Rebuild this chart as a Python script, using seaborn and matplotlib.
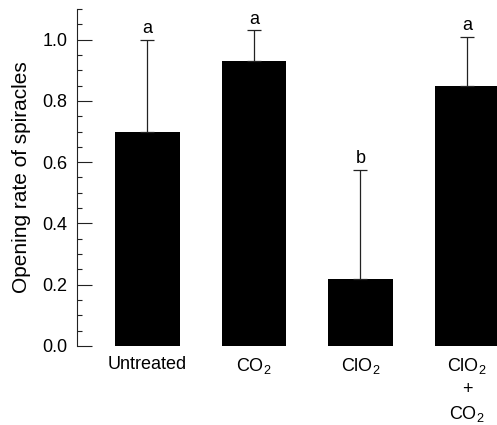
import matplotlib
matplotlib.use("Agg")
import matplotlib.pyplot as plt
import seaborn as sns
import numpy as np
import pandas as pd
from matplotlib.ticker import MultipleLocator, FormatStrFormatter

categories = ["Untreated", "CO$_\\mathregular{2}$", "ClO$_\\mathregular{2}$",
              "ClO$_\\mathregular{2}$\n+\nCO$_\\mathregular{2}$"]
means = [0.70, 0.93, 0.22, 0.85]
upper_err = [0.30, 0.10, 0.355, 0.16]
letters = ["a", "a", "b", "a"]

sns.set_style("white")
plt.rcParams["font.family"] = ["Liberation Sans", "DejaVu Sans"]
plt.rcParams["mathtext.fontset"] = "custom"
plt.rcParams["mathtext.rm"] = "Liberation Sans"
plt.rcParams["mathtext.it"] = "Liberation Sans:italic"
plt.rcParams["mathtext.bf"] = "Liberation Sans:bold"
for k in ["text.color", "axes.labelcolor", "xtick.color", "ytick.color"]:
    plt.rcParams[k] = "black"

df = pd.DataFrame({"group": categories, "rate": means})

fig = plt.figure(figsize=(4.97, 4.25), dpi=100)
ax = fig.add_axes([77.3 / 497, (425 - 346) / 425, 1 - 77.3 / 497, 337 / 425])

sns.barplot(data=df, x="group", y="rate", color="black", saturation=1,
            width=0.61, errorbar=None, ax=ax, edgecolor="black", linewidth=0)

xs = [p.get_x() + p.get_width() / 2 for p in ax.patches]
ax.errorbar(xs, means, yerr=[np.zeros(len(means)), upper_err], fmt="none",
            ecolor="#222222", elinewidth=0.9, capsize=5, capthick=0.9)
for x, m, e, l in zip(xs, means, upper_err, letters):
    ax.annotate(l, (x, m + e), xytext=(0, 2), textcoords="offset points",
                ha="center", va="bottom", fontsize=13)

ax.set_ylim(0, 1.1)
ax.set_xlim(-0.659, (497 - 147.5) / 106.5)
ax.yaxis.set_major_locator(MultipleLocator(0.2))
ax.yaxis.set_minor_locator(MultipleLocator(0.05))
ax.yaxis.set_major_formatter(FormatStrFormatter("%.1f"))
ax.tick_params(axis="y", which="major", direction="in", length=10.8, width=0.8,
               pad=7, labelsize=13, left=True, color="#222222")
ax.tick_params(axis="y", which="minor", direction="in", length=3.6, width=0.8,
               left=True, color="#222222")
ax.tick_params(axis="x", length=0, pad=7, labelsize=13)
for t in ax.get_xticklabels():
    t.set_linespacing(1.4)

for s in ["top", "right", "bottom"]:
    ax.spines[s].set_visible(False)
ax.spines["left"].set_linewidth(0.8)
ax.spines["left"].set_color("#222222")

ax.set_xlabel("")
ax.set_ylabel("Opening rate of spiracles", fontsize=15, labelpad=8)

fig.savefig("out.png", dpi=100)
